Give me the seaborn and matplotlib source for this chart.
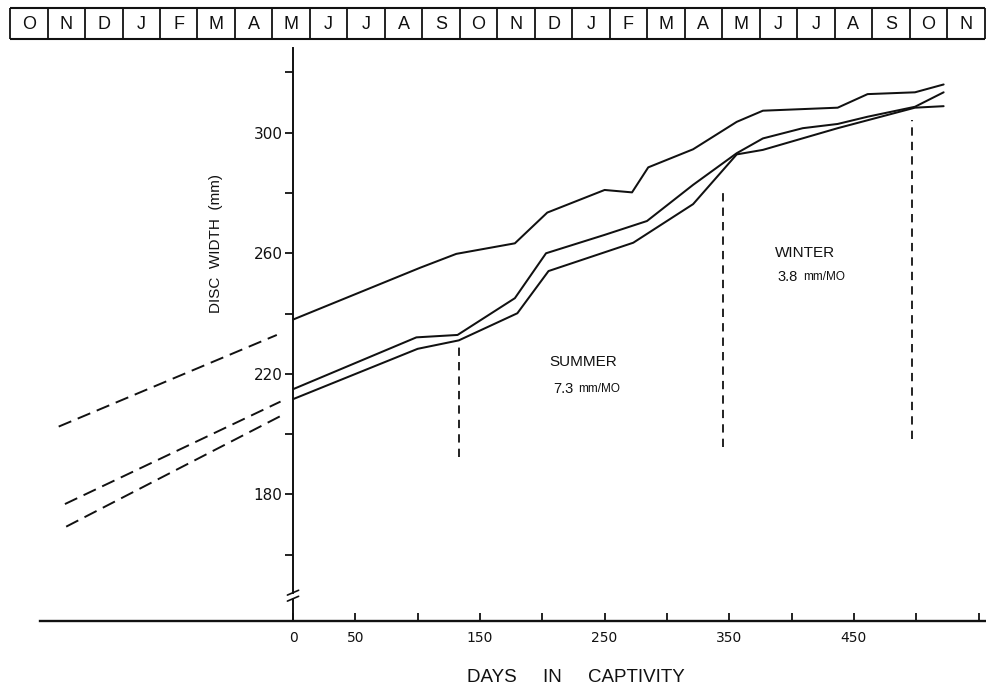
import numpy as np
import pandas as pd
import matplotlib
matplotlib.use("Agg")
import matplotlib.pyplot as plt
import seaborn as sns

# Disc width (mm) of three rays against days in captivity
days_a = [0, 102, 131, 178, 204, 250, 272, 285, 321, 356, 377, 437, 461, 499, 522]
width_a = [238.0, 255.2, 259.8, 263.3, 273.5, 281.0, 280.2, 288.5, 294.5,
           303.6, 307.3, 308.3, 312.8, 313.4, 316.0]

days_b = [0, 99, 132, 178, 203, 250, 284, 321, 356, 377, 409, 437, 461, 499, 522]
width_b = [214.9, 232.1, 232.9, 245.1, 260.0, 266.1, 270.7, 282.7, 293.2,
           298.1, 301.5, 302.9, 305.3, 308.6, 313.4]

days_c = [0, 100, 133, 180, 205, 273, 321, 356, 377, 437, 499, 522]
width_c = [211.6, 228.3, 231.1, 240.1, 254.1, 263.5, 276.3, 292.8, 294.3,
           301.5, 308.3, 308.8]

# Back-extrapolated growth before capture
ext_days_a = [-188, -13]
ext_width_a = [202.5, 232.9]
ext_days_b = [-183, -10]
ext_width_b = [176.8, 210.8]
ext_days_c = [-182, -10]
ext_width_c = [169.3, 206.0]

# Season boundaries (day, lower and upper width of the marker)
season_days = [133, 345, 497]
season_low = [192.5, 195.6, 198.5]
season_high = [229.6, 280.0, 304.2]

season_labels = ["SUMMER", "WINTER"]
season_rates = ["7.3", "3.8"]

months = ["O", "N", "D", "J", "F", "M", "A", "M", "J", "J", "A", "S", "O",
          "N", "D", "J", "F", "M", "A", "M", "J", "J", "A", "S", "O", "N"]
month_start_day = -227.0
month_len_days = 30.07

x_major = [0, 50, 150, 250, 350, 450]
x_minor = [100, 200, 300, 400, 500, 550]
y_major = [180, 220, 260, 300]
y_minor = [160, 200, 240, 280, 320]

sns.set_theme(style="ticks")
plt.rcParams["font.family"] = ["Liberation Sans", "DejaVu Sans"]
plt.rcParams["text.color"] = "#111111"
plt.rcParams["axes.labelcolor"] = "#111111"
plt.rcParams["xtick.color"] = "#111111"
plt.rcParams["ytick.color"] = "#111111"

W, H = 986, 691
fig = plt.figure(figsize=(W / 100, H / 100), dpi=100)
fig.patch.set_facecolor("white")
ax = fig.add_axes([40 / W, 1 - 621 / H, 946 / W, 573 / H])
strip = fig.add_axes([40 / W, 1 - 39 / H, 946 / W, 31 / H])

XLIM = (-203, 556)
YLIM = (138, 328.1)
ink = "#111111"

growth = pd.concat([
    pd.DataFrame({"ray": "A", "day": days_a, "width": width_a}),
    pd.DataFrame({"ray": "B", "day": days_b, "width": width_b}),
    pd.DataFrame({"ray": "C", "day": days_c, "width": width_c}),
], ignore_index=True)

before = pd.concat([
    pd.DataFrame({"ray": "A", "day": ext_days_a, "width": ext_width_a}),
    pd.DataFrame({"ray": "B", "day": ext_days_b, "width": ext_width_b}),
    pd.DataFrame({"ray": "C", "day": ext_days_c, "width": ext_width_c}),
], ignore_index=True)

sns.lineplot(data=growth, x="day", y="width", units="ray", estimator=None,
             color=ink, linewidth=1.45, sort=False, ax=ax)
sns.lineplot(data=before, x="day", y="width", style="ray",
             dashes={k: (7.0, 3.6) for k in ["A", "B", "C"]},
             estimator=None, color=ink, linewidth=1.4, legend=False, ax=ax)

ax.vlines(season_days, season_low, season_high, colors=ink,
          linestyles=(0, (4.6, 3.4)), linewidth=1.3)

# Season annotations
for lbl, rate, xd, yl, yr in zip(season_labels, season_rates,
                                 [206, 386.5], [224.0, 260.2], [215.0, 252.2]):
    ax.text(xd, yl, lbl, fontsize=11, ha="left", va="center")
    t = ax.text(xd + 2.5, yr, rate, fontsize=10.5, ha="left", va="center")
    ax.annotate("mm/MO", xy=(1, 0), xycoords=t, xytext=(3.5, 0.8),
                textcoords="offset points", fontsize=8.5, ha="left", va="bottom")

ax.set_xlim(*XLIM)
ax.set_ylim(*YLIM)

# Axes: y axis sits at day 0 with a break near the bottom
for side in ["top", "right"]:
    ax.spines[side].set_visible(False)
ax.spines["left"].set_position(("data", 0))
ax.spines["left"].set_bounds(147.4, YLIM[1])
ax.spines["left"].set_linewidth(1.4)
ax.spines["left"].set_color(ink)
ax.spines["bottom"].set_linewidth(1.7)
ax.spines["bottom"].set_color(ink)
ax.plot([0, 0], [YLIM[0], 145.4], color=ink, lw=1.4, clip_on=False)
for yb in (145.4, 147.4):
    ax.plot([-4.5, 4.5], [yb - 0.8, yb + 0.8], color=ink, lw=1.2, clip_on=False)

ax.set_xticks(x_major)
ax.set_xticklabels([str(v) for v in x_major], family="DejaVu Sans")
ax.set_xticks(x_minor, minor=True)
ax.set_yticks(y_major)
ax.set_yticklabels([str(v) for v in y_major], family="DejaVu Sans")
ax.set_yticks(y_minor, minor=True)
ax.tick_params(axis="x", which="both", direction="in", length=6, width=1.3,
               pad=7, labelsize=10, bottom=True)
ax.tick_params(axis="y", which="both", direction="out", length=6, width=1.3,
               pad=1.5, labelsize=11, left=True)

ax.set_xlabel("DAYS     IN     CAPTIVITY", fontsize=13.5)
ax.xaxis.set_label_coords(0.5666, -0.083)
ax.set_ylabel("DISC  WIDTH  (mm)", fontsize=11)
ax.yaxis.set_label_coords(0.1934, 0.658)

# Month strip along the top
strip.set_xlim(*XLIM)
strip.set_ylim(0, 1)
strip.axis("off")
edges = month_start_day + month_len_days * np.arange(len(months) + 1)
strip.hlines([0, 1], edges[0], edges[-1], colors=ink, linewidth=1.5, clip_on=False)
strip.vlines(edges, 0, 1, colors=ink, linewidth=1.3, clip_on=False)
for m, lo, hi in zip(months, edges[:-1], edges[1:]):
    strip.text((lo + hi) / 2, 0.47, m, ha="center", va="center", fontsize=13)

fig.savefig("out.png", dpi=100, facecolor="white")
